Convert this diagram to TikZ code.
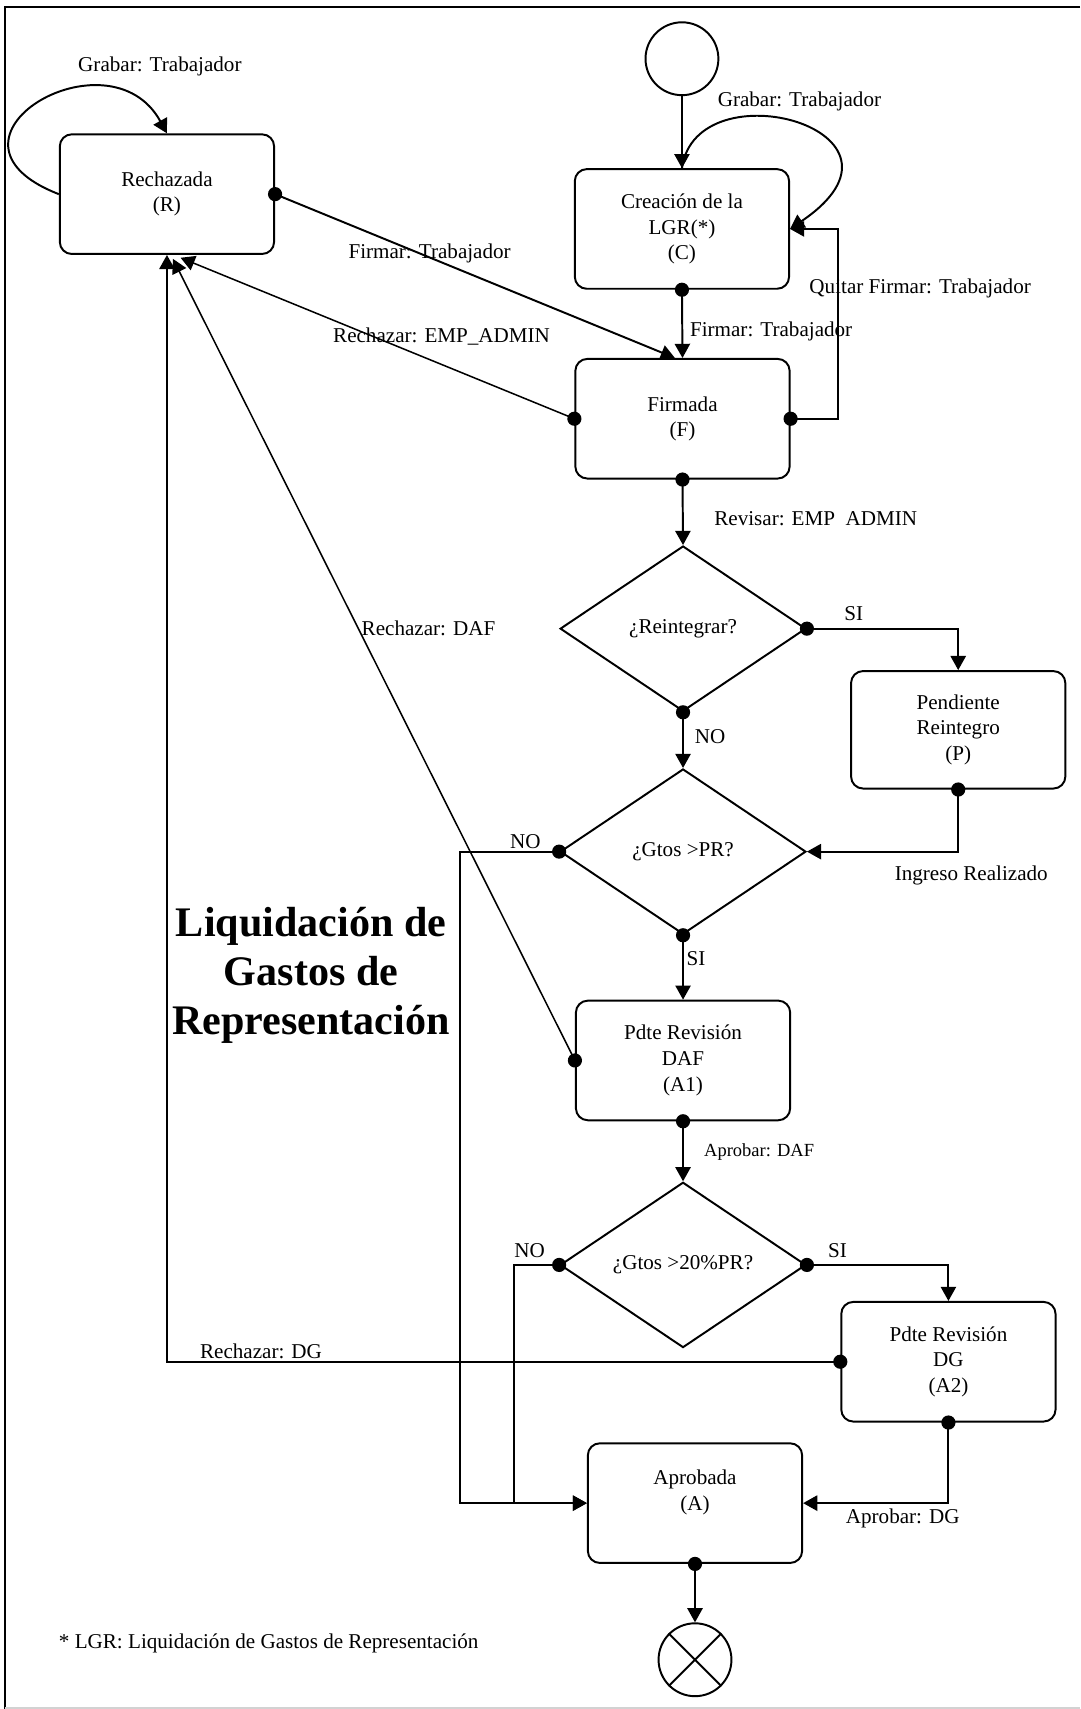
\documentclass[tikz,border=0pt]{standalone}
\usepackage{fontspec}
\setmainfont{Liberation Serif}
\usetikzlibrary{shapes.geometric, arrows.meta}

\newcommand{\letra}{\fontsize{19.4}{23.5}\selectfont}
\newcommand{\letrachica}{\fontsize{17}{20}\selectfont}
\newcommand{\titulo}{\bfseries\fontsize{38.7}{45}\selectfont}

\tikzset{
  estado/.style={draw, line width=1.8pt, rounded corners=11pt, minimum width=197pt, minimum height=110pt, align=center, font=\letra},
  decision/.style={draw, diamond, aspect=1.5, line width=1.8pt, minimum width=226pt, minimum height=152pt, inner sep=0pt, font=\letra},
  flecha/.style={line width=1.8pt, -{Triangle[length=13pt,width=14pt]}},
  punto/.style={line width=1.8pt, {Circle[length=13pt]}-{Triangle[length=13pt,width=14pt]}, shorten <=-6.5pt},
  etiqueta/.style={inner sep=0pt, font=\letra}
}

\begin{document}
\begin{tikzpicture}[x=1pt, y=-1pt]

			\useasboundingbox (0,0) rectangle (993,1571.3);
			% Marco
			\draw[line width=1.8pt] (993,6) -- (5,6) -- (5,1571.3);
			\draw[gray!35, line width=1.5pt] (5,1570.5) -- (993,1570.5);

			% Estados
			\node[circle, draw, line width=1.8pt, minimum size=67pt] (ini) at (627,54) {};
			\node[estado] (C) at (627,210.5) {Creación de la\\LGR(*)\\(C)};
			\node[estado] (R) at (153.5,178.5) {Rechazada\\(R)};
			\node[estado] (F) at (627.5,385) {Firmada\\(F)};
			\node[decision] (D1) at (628,578) {¿Reintegrar?};
			\node[estado, minimum height=108pt] (P) at (881,671) {Pendiente\\Reintegro\\(P)};
			\node[decision] (D2) at (628,783) {¿Gtos >PR?};
			\node[estado] (A1) at (628,975) {Pdte Revisión\\DAF\\(A1)};
			\node[decision] (D3) at (628,1163) {¿Gtos >20\%PR?};
			\node[estado] (A2) at (872,1252) {Pdte Revisión\\DG\\(A2)};
			\node[estado] (A) at (639,1382) {Aprobada\\(A)\\\mbox{}};
			\node[circle, draw, line width=1.8pt, minimum size=67pt] (fin) at (639,1526) {};
			\draw[line width=1.8pt] (fin.north east) -- (fin.south west);
			\draw[line width=1.8pt] (fin.north west) -- (fin.south east);

			% Puntos de paso
			\coordinate (r1) at (166,237);
			\coordinate (r2) at (159,238);
			\coordinate (n1) at (423,783);
			\coordinate (n2) at (473,1163);

			% Transiciones
			\draw[flecha] (ini.south) -- (C.north);
			\draw[flecha] (C.north) .. controls (640,60) and (860,120) .. (C.east);
			\draw[flecha] (R.west) .. controls (-75,128.5) and (100,25) .. (R.north);
			\draw[punto] (R.east) -- ([xshift=-7pt]F.north);
			\draw[punto] (C.south) -- (F.north);
			\draw[punto] (F.east) -- ++(44,0) |- (C.east);
			\draw[punto, line width=1.4pt] (F.west) -- (r1);
			\draw[punto] (F.south) -- (D1.north);
			\draw[punto] (D1.east) -| (P.north);
			\draw[punto] (D1.south) -- (D2.north);
			\draw[punto] (P.south) |- (D2.east);
			\draw[punto] (D2.west) -- (n1) |- (A.west);
			\draw[punto] (D2.south) -- (A1.north);
			\draw[punto, line width=1.4pt] (A1.west) -- (r2);
			\draw[punto] (A1.south) -- (D3.north);
			\draw[punto] (D3.west) -- (n2) |- (A.west);
			\draw[punto] (D3.east) -| (A2.north);
			\draw[punto] (A2.west) -| (R.south);
			\draw[punto] (A2.south) |- (A.east);
			\draw[punto] (A.south) -- (fin.north);

			% Etiquetas de las transiciones
			\node[etiqueta] (gR) at (147,61) {Grabar: Trabajador};
			\node[etiqueta] (gC) at (735,93) {Grabar: Trabajador};
			\node[etiqueta] (fR) at (395,233) {Firmar: Trabajador};
			\node[etiqueta] (rE) at (406,309) {Rechazar: EMP\_ADMIN};
			\node[etiqueta] (qF) at (846,265) {Quitar Firmar: Trabajador};
			\node[etiqueta] (fC) at (709,305) {Firmar: Trabajador};
			\node[etiqueta] (rv) at (750,477) {Revisar: EMP\ \ ADMIN};
			\node[etiqueta] (si1) at (785,564) {SI};
			\node[etiqueta] (no1) at (653,677) {NO};
			\node[etiqueta] (ing) at (893,805) {Ingreso Realizado};
			\node[etiqueta] (no2) at (483,774) {NO};
			\node[etiqueta] (si2) at (640,881) {SI};
			\node[etiqueta] (rD) at (394,578) {Rechazar: DAF};
			\node[etiqueta, font=\letrachica] (aD) at (698,1059) {Aprobar: DAF};
			\node[etiqueta] (no3) at (487,1150) {NO};
			\node[etiqueta] (si3) at (770,1150) {SI};
			\node[etiqueta] (rG) at (240,1242) {Rechazar: DG};
			\node[etiqueta] (aG) at (830,1396) {Aprobar: DG};

			% Título y nota
			\node[font=\titulo, align=center] (tit) at (286,897) {Liquidación de\\Gastos de\\Representación};
			\node[etiqueta, anchor=west] (nota) at (54,1511) {* LGR: Liquidación de Gastos de Representación};

\end{tikzpicture}
\end{document}
